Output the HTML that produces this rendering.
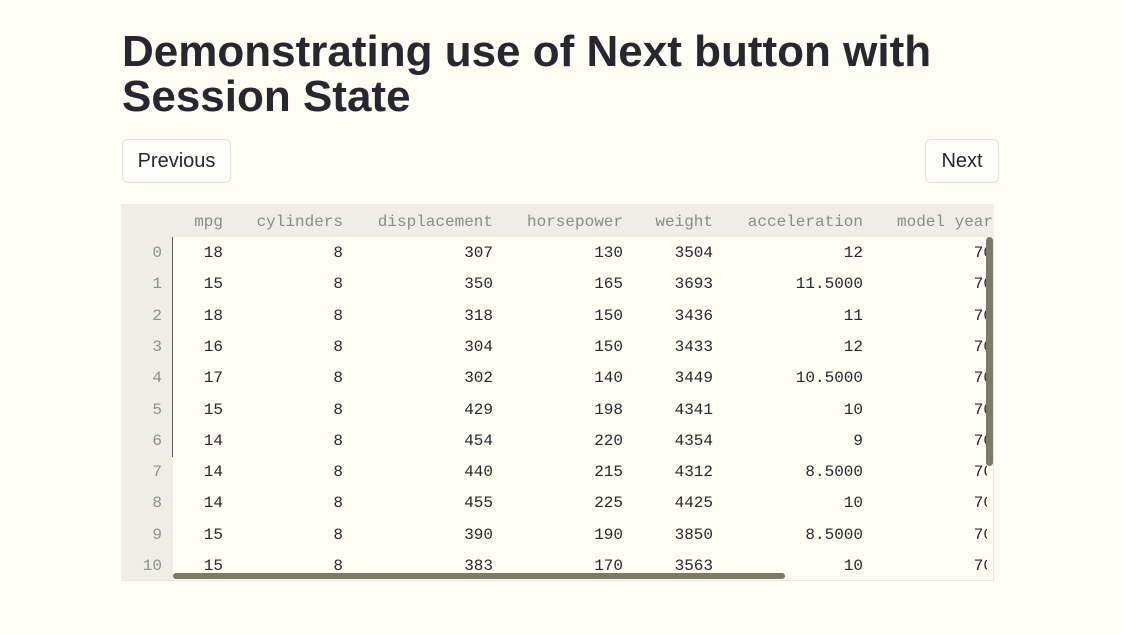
<!DOCTYPE html>
<html>
<head>
<meta charset="utf-8">
<style>
  html,body{margin:0;padding:0;}
  body{width:1122px;height:634px;background:#fdfdf4;position:relative;overflow:hidden;font-family:"Liberation Sans",sans-serif;color:#262730;}
  .title{position:absolute;left:122px;top:29px;font-size:44px;font-weight:bold;line-height:45px;white-space:nowrap;color:#262730;}
  .btn{position:absolute;top:139px;height:42px;border:1px solid #e2e2d6;border-radius:6px;background:#fefefa;font-size:20px;line-height:42px;text-align:center;color:#262730;}
  .hdr{position:absolute;left:121px;top:204px;width:873px;height:33px;background:#eeeee7;overflow:hidden;}
  .idxbg{position:absolute;left:121px;top:237px;width:52px;height:344px;background:#eeeee7;}
  .body{position:absolute;left:121px;top:237px;width:866px;height:344px;overflow:hidden;}
  .row{position:absolute;left:0;height:31.3px;display:flex;font-family:"Liberation Mono",monospace;font-size:16px;line-height:31.3px;white-space:nowrap;}
  .hrow{position:absolute;left:0;top:2px;height:33px;display:flex;font-family:"Liberation Mono",monospace;font-size:16px;line-height:33px;white-space:nowrap;color:#8b8b88;}
  .c{box-sizing:border-box;text-align:right;padding-right:10px;flex:none;}
  .i{width:52px;padding-right:11px;color:#8e8e8c;}
  .c1{width:60px}.c2{width:120px}.c3{width:150px}.c4{width:130px}.c5{width:90px}.c6{width:150px}.c7{width:130px}
  .vline{position:absolute;left:172px;top:237px;width:1px;height:220px;background:#5c5c5c;}
  .vs{position:absolute;left:986px;top:237px;width:7px;height:229px;border-radius:4px;background:#7a7a66;}
  .hs{position:absolute;left:173px;top:573px;width:612px;height:6px;border-radius:3px;background:#7a7a66;}
  .rb{position:absolute;left:993px;top:237px;width:1px;height:344px;background:#e6e6ea;}
  .bb{position:absolute;left:121px;top:580px;width:873px;height:1px;background:#e6e6ea;}
</style>
</head>
<body>
<div class="title">Demonstrating use of Next button with<br>Session State</div>

<div class="btn" style="left:122px;width:107px;">Previous</div>
<div class="btn" style="left:925px;width:72px;">Next</div>

<div class="hdr">
  <div class="hrow">
    <div class="c i"></div><div class="c c1">mpg</div><div class="c c2">cylinders</div><div class="c c3">displacement</div><div class="c c4">horsepower</div><div class="c c5">weight</div><div class="c c6">acceleration</div><div class="c c7">model year</div>
  </div>
</div>
<div class="idxbg"></div>
<div class="rb"></div>
<div class="bb"></div>

<div class="body">
  <div class="row" style="top:1px"><div class="c i">0</div><div class="c c1">18</div><div class="c c2">8</div><div class="c c3">307</div><div class="c c4">130</div><div class="c c5">3504</div><div class="c c6">12</div><div class="c c7">70</div></div>
  <div class="row" style="top:32.3px"><div class="c i">1</div><div class="c c1">15</div><div class="c c2">8</div><div class="c c3">350</div><div class="c c4">165</div><div class="c c5">3693</div><div class="c c6">11.5000</div><div class="c c7">70</div></div>
  <div class="row" style="top:63.6px"><div class="c i">2</div><div class="c c1">18</div><div class="c c2">8</div><div class="c c3">318</div><div class="c c4">150</div><div class="c c5">3436</div><div class="c c6">11</div><div class="c c7">70</div></div>
  <div class="row" style="top:94.9px"><div class="c i">3</div><div class="c c1">16</div><div class="c c2">8</div><div class="c c3">304</div><div class="c c4">150</div><div class="c c5">3433</div><div class="c c6">12</div><div class="c c7">70</div></div>
  <div class="row" style="top:126.2px"><div class="c i">4</div><div class="c c1">17</div><div class="c c2">8</div><div class="c c3">302</div><div class="c c4">140</div><div class="c c5">3449</div><div class="c c6">10.5000</div><div class="c c7">70</div></div>
  <div class="row" style="top:157.5px"><div class="c i">5</div><div class="c c1">15</div><div class="c c2">8</div><div class="c c3">429</div><div class="c c4">198</div><div class="c c5">4341</div><div class="c c6">10</div><div class="c c7">70</div></div>
  <div class="row" style="top:188.8px"><div class="c i">6</div><div class="c c1">14</div><div class="c c2">8</div><div class="c c3">454</div><div class="c c4">220</div><div class="c c5">4354</div><div class="c c6">9</div><div class="c c7">70</div></div>
  <div class="row" style="top:220.1px"><div class="c i">7</div><div class="c c1">14</div><div class="c c2">8</div><div class="c c3">440</div><div class="c c4">215</div><div class="c c5">4312</div><div class="c c6">8.5000</div><div class="c c7">70</div></div>
  <div class="row" style="top:251.4px"><div class="c i">8</div><div class="c c1">14</div><div class="c c2">8</div><div class="c c3">455</div><div class="c c4">225</div><div class="c c5">4425</div><div class="c c6">10</div><div class="c c7">70</div></div>
  <div class="row" style="top:282.7px"><div class="c i">9</div><div class="c c1">15</div><div class="c c2">8</div><div class="c c3">390</div><div class="c c4">190</div><div class="c c5">3850</div><div class="c c6">8.5000</div><div class="c c7">70</div></div>
  <div class="row" style="top:314px"><div class="c i">10</div><div class="c c1">15</div><div class="c c2">8</div><div class="c c3">383</div><div class="c c4">170</div><div class="c c5">3563</div><div class="c c6">10</div><div class="c c7">70</div></div>
</div>

<div class="vline"></div>
<div class="vs"></div>
<div class="hs"></div>
</body>
</html>
